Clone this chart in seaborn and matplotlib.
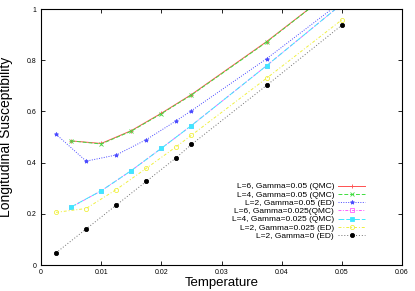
import pandas as pd
import seaborn as sns
import matplotlib.pyplot as plt

# temperatures
t_qmc = [0.005, 0.01, 0.015, 0.02, 0.025, 0.0375, 0.05]
t_ed = [0.0025, 0.0075, 0.0125, 0.0175, 0.0225, 0.025, 0.0375, 0.05]

# susceptibility values
l6_g05 = [0.485, 0.475, 0.525, 0.593, 0.666, 0.873, 1.10]
l4_g05 = [0.485, 0.473, 0.523, 0.591, 0.664, 0.871, 1.10]
l2_g05 = [0.511, 0.406, 0.430, 0.490, 0.564, 0.603, 0.806, 1.03]
l6_g025 = [0.226, 0.290, 0.369, 0.456, 0.545, 0.779, 1.02]
l4_g025 = [0.227, 0.290, 0.369, 0.456, 0.545, 0.779, 1.02]
l2_g025 = [0.206, 0.221, 0.295, 0.378, 0.463, 0.507, 0.730, 0.958]
l2_g0 = [0.048, 0.141, 0.234, 0.327, 0.420, 0.471, 0.702, 0.937]

series = [
    ("L=6, Gamma=0.05 (QMC)", t_qmc, l6_g05, "#ff5050", "-", "+", "full"),
    ("L=4, Gamma=0.05 (QMC)", t_qmc, l4_g05, "#40dd40", (0, (4, 2)), "x", "full"),
    ("L=2, Gamma=0.05 (ED)", t_ed, l2_g05, "#4a4aff", (0, (1, 1.5)), "*", "full"),
    ("L=6, Gamma=0.025(QMC)", t_qmc, l6_g025, "#ff60ff", (0, (3, 1.5, 1, 1.5)), "s", "none"),
    ("L=4, Gamma=0.025 (QMC)", t_qmc, l4_g025, "#40e8ff", (0, (6, 2)), "s", "full"),
    ("L=2, Gamma=0.025 (ED)", t_ed, l2_g025, "#f0f040", (0, (3, 2, 1, 2)), "o", "none"),
    ("L=2, Gamma=0 (ED)", t_ed, l2_g0, "#707070", (0, (1, 2)), "o", "full"),
]

plt.rcParams['font.family'] = ['Liberation Sans', 'DejaVu Sans']
fig = plt.figure(figsize=(4.15, 2.91), dpi=100)
ax = fig.add_axes([0.0988, 0.089, 0.87, 0.88])

for label, t, chi, color, ls, mk, fill in series:
    df = pd.DataFrame({"T": t, "chi": chi})
    mfc = color if fill == "full" else "none"
    mec = color
    if color == "#707070":
        mfc = "black"
        mec = "black"
    sns.lineplot(data=df, x="T", y="chi", ax=ax, color=color, linestyle=ls,
                 linewidth=0.7, marker=mk, markersize=3, markerfacecolor=mfc,
                 markeredgecolor=mec, markeredgewidth=0.6, label=label, sort=False)

ax.set_xlim(0, 0.06)
ax.set_ylim(0, 1)
ax.set_xticks([0, 0.01, 0.02, 0.03, 0.04, 0.05, 0.06])
ax.set_xticklabels(["0", "0.01", "0.02", "0.03", "0.04", "0.05", "0.06"])
ax.set_yticks([0, 0.2, 0.4, 0.6, 0.8, 1])
ax.set_yticklabels(["0", "0.2", "0.4", "0.6", "0.8", "1"])
ax.tick_params(direction="in", top=True, right=True, length=3, width=0.6,
               labelsize=5, pad=3)
for s in ax.spines.values():
    s.set_linewidth(0.8)

ax.set_xlabel("Temperature", fontsize=9.5)
ax.set_ylabel("Longitudinal Susceptibility", fontsize=10)
ax.xaxis.set_label_coords(0.5, -0.047)
ax.yaxis.set_label_coords(-0.078, 0.5)

ax.legend(loc="upper right", bbox_to_anchor=(0.897, 0.322), frameon=False,
          markerfirst=False, fontsize=6, handlelength=3.2, labelspacing=0.05,
          borderpad=0, borderaxespad=0, handletextpad=0.5)

fig.savefig("out.png", dpi=100)
